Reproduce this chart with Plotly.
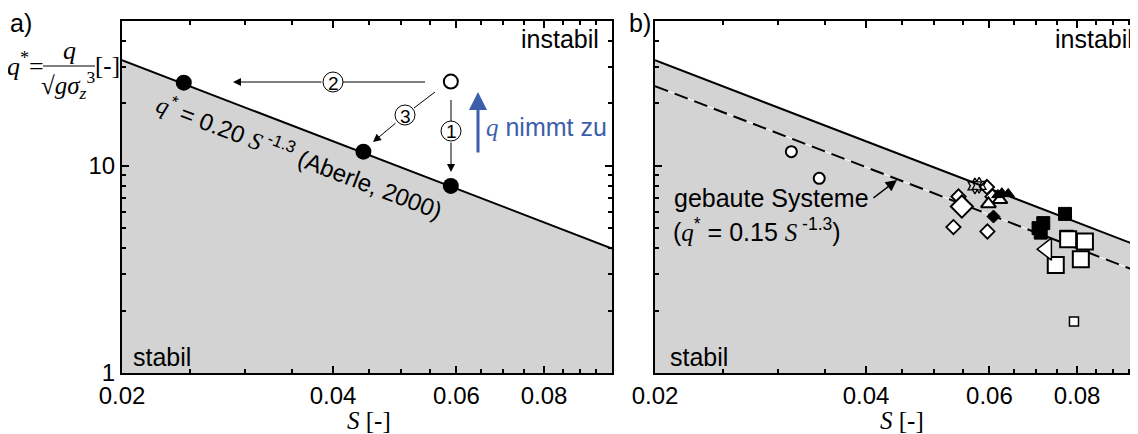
import numpy as np
import plotly.graph_objects as go

# ---------------- data ----------------
S_MIN, S_MAX = 0.02, 0.1
Q_MIN, Q_MAX = 1, 50
ABERLE_COEF = 0.20     # q* = 0.20 S^-1.3
BUILT_COEF = 0.15      # q* = 0.15 S^-1.3
EXPONENT = -1.3

x_tick_vals = [0.02, 0.04, 0.06, 0.08]
x_tick_text = ["0.02", "0.04", "0.06", "0.08"]
x_minor_vals = [0.025, 0.03, 0.035, 0.045, 0.05, 0.055, 0.065, 0.07, 0.075, 0.085, 0.09, 0.095]
y_tick_vals = [1, 10, 50]
y_tick_text = ["1", "10", "50"]
y_minor_vals = [2, 3, 4, 5, 6, 7, 8, 9, 20, 30, 40]

# panel a
a_start_S = [0.0589]
a_start_q = [25.5]
a_end_S = [0.0245, 0.0442, 0.0589]
a_end_q = [25.2, 11.7, 8.0]

# panel b (built systems)
b_circ_S = [0.0313, 0.0343]
b_circ_q = [11.7, 8.7]
b_smalldia_S = [0.0533, 0.0596, 0.0542, 0.0595, 0.0606]
b_smalldia_q = [5.06, 4.82, 7.11, 7.9, 7.1]
b_bigdia_S = [0.0548]
b_bigdia_q = [6.36]
b_star_S = [0.0572, 0.0580]
b_star_q = [8.0, 8.05]
b_blktri_S = [0.0617, 0.0625, 0.0638]
b_blktri_q = [7.24, 7.38, 7.32]
b_opentri_S = [0.0621, 0.0598]
b_opentri_q = [6.85, 6.55]
b_blkdia_S = [0.0608]
b_blkdia_q = [5.69]
b_blksq_S = [0.0769, 0.0716, 0.0705, 0.0710]
b_blksq_q = [5.86, 5.29, 5.0, 4.76]
b_opensq_S = [0.0777, 0.0821, 0.0746, 0.0810]
b_opensq_q = [4.42, 4.31, 3.32, 3.54]
b_midsq_S = [0.0773]
b_midsq_q = [4.55]
b_lefttri_S = [0.0724]
b_lefttri_q = [3.96]
b_tinysq_S = [0.0792]
b_tinysq_q = [1.77]

# ---------------- layout helpers ----------------
# page body has an 8px margin, so the figure is 8px smaller and the
# helpers below work in window pixels
OFF = 8
W, H = 1138 - OFF, 434 - OFF
ML, MR, MT, MB = 122 - OFF, 0, 21 - OFF, 434 - 373
PW, PH = W - ML - MR, H - MT - MB
PX_PER_DEC = 701.0


def fx(px):
    return (px - 122) / PW


def fy(py):
    return (373 - py) / PH


SANS = "Liberation Sans"
SERIF = "Liberation Serif"
GRAY = "#d3d3d3"
BLUE = "#3d5eab"


def power(coef, s):
    return coef * np.power(np.asarray(s, dtype=float), EXPONENT)


fig = go.Figure()

line_S = [S_MIN, S_MAX]
for xa, ya in (("x", "y"), ("x2", "y2")):
    fig.add_trace(go.Scatter(
        x=[S_MIN, S_MAX, S_MAX, S_MIN],
        y=list(power(ABERLE_COEF, line_S)) + [Q_MIN, Q_MIN],
        fill="toself", fillcolor=GRAY, line=dict(width=0), mode="lines",
        hoverinfo="skip", showlegend=False, xaxis=xa, yaxis=ya))
    fig.add_trace(go.Scatter(
        x=line_S, y=power(ABERLE_COEF, line_S), mode="lines",
        line=dict(color="black", width=2), showlegend=False, xaxis=xa, yaxis=ya))

# dashed built-systems line (panel b)
fig.add_trace(go.Scatter(x=line_S, y=power(BUILT_COEF, line_S), mode="lines",
                         line=dict(color="white", width=1), showlegend=False,
                         xaxis="x2", yaxis="y2"))
fig.add_trace(go.Scatter(x=line_S, y=power(BUILT_COEF, line_S), mode="lines",
                         line=dict(color="black", width=2, dash="14px,7px"), showlegend=False,
                         xaxis="x2", yaxis="y2"))

# panel a points
fig.add_trace(go.Scatter(x=a_end_S, y=a_end_q, mode="markers",
                         marker=dict(symbol="circle", size=16, color="black"),
                         showlegend=False, xaxis="x", yaxis="y"))
fig.add_trace(go.Scatter(x=a_start_S, y=a_start_q, mode="markers",
                         marker=dict(symbol="circle", size=14, color="white",
                                     line=dict(color="black", width=2)),
                         showlegend=False, xaxis="x", yaxis="y"))


def pts(S, q, symbol, size, fill, lw=1.5):
    fig.add_trace(go.Scatter(
        x=S, y=q, mode="markers",
        marker=dict(symbol=symbol, size=size, color=fill,
                    line=dict(color="black", width=lw)),
        showlegend=False, xaxis="x2", yaxis="y2"))


pts(b_circ_S, b_circ_q, "circle", 11, "white", 2)
pts(b_smalldia_S, b_smalldia_q, "diamond", 11, "white", 1.8)
pts(b_bigdia_S, b_bigdia_q, "diamond", 17, "white", 2)
pts(b_star_S, b_star_q, "hexagram-open", 12, "black", 1.3)
pts(b_opentri_S, b_opentri_q, "triangle-up", 13, "white", 2)
pts(b_blktri_S, b_blktri_q, "triangle-up", 11, "black", 1)
pts(b_blkdia_S, b_blkdia_q, "diamond", 10, "black", 1)
pts(b_blksq_S, b_blksq_q, "square", 13, "black", 1)
pts(b_midsq_S, b_midsq_q, "square", 12, "white", 2)
pts(b_opensq_S, b_opensq_q, "square", 16, "white", 2)
pts(b_lefttri_S, b_lefttri_q, "triangle-left", 19, "white", 1.5)
pts(b_tinysq_S, b_tinysq_q, "square", 9, "white", 1.5)

# ---------------- axes ----------------
tickfont = dict(family=SANS, size=24, color="black")
common_x = dict(type="log", tickmode="array", tickvals=x_tick_vals, ticktext=x_tick_text,
                ticks="inside", ticklen=7, tickwidth=1.5, tickcolor="black",
                showline=True, linewidth=2, linecolor="black", mirror="ticks",
                showgrid=False, zeroline=False, tickfont=tickfont,
                minor=dict(tickvals=x_minor_vals, ticks="inside", ticklen=4,
                           tickwidth=1.5, tickcolor="black", showgrid=False))
common_y = dict(type="log", tickmode="array", tickvals=y_tick_vals, ticktext=y_tick_text,
                range=[np.log10(Q_MIN), np.log10(Q_MAX)],
                ticks="inside", ticklen=7, tickwidth=1.5, tickcolor="black",
                showline=True, linewidth=2, linecolor="black",
                showgrid=False, zeroline=False, tickfont=tickfont,
                minor=dict(tickvals=y_minor_vals, ticks="inside", ticklen=4,
                           tickwidth=1.5, tickcolor="black", showgrid=False))

x2_end = np.log10(S_MIN) + (1138 - 655) / PX_PER_DEC

fig.update_layout(
    width=W, height=H,
    margin=dict(l=ML, r=MR, t=MT, b=MB),
    paper_bgcolor="white", plot_bgcolor="white",
    xaxis=dict(common_x, domain=[0, fx(612)], range=[np.log10(S_MIN), np.log10(S_MAX)], anchor="y"),
    yaxis=dict(common_y, domain=[0, 1], anchor="x", mirror="ticks"),
    xaxis2=dict(common_x, domain=[fx(655), 1], range=[np.log10(S_MIN), x2_end], anchor="y2"),
    yaxis2=dict(common_y, domain=[0, 1], anchor="x2", mirror=False, showticklabels=False),
)

# ---------------- annotations ----------------
ann = []
shapes = []


def text(px, py, t, size=25, family=SANS, color="black", xanchor="center", angle=0):
    ann.append(dict(x=fx(px), y=fy(py), xref="paper", yref="paper", text=t, showarrow=False,
                    xanchor=xanchor, yanchor="middle", textangle=angle,
                    font=dict(family=family, size=size, color=color)))


def arrow(tx, ty, hx, hy, color="black", width=1, size=1.6):
    ann.append(dict(x=fx(hx), y=fy(hy), xref="paper", yref="paper", ax=tx - hx, ay=ty - hy,
                    axref="pixel", ayref="pixel", text="", showarrow=True,
                    arrowhead=2, arrowsize=size, arrowwidth=width, arrowcolor=color))


def seg(x0, y0, x1, y1, width=1, color="black"):
    shapes.append(dict(type="line", xref="paper", yref="paper",
                       x0=fx(x0), y0=fy(y0), x1=fx(x1), y1=fy(y1),
                       line=dict(color=color, width=width)))


def circ_num(cx, cy, label):
    shapes.append(dict(type="circle", xref="paper", yref="paper",
                       x0=fx(cx - 10), x1=fx(cx + 10), y0=fy(cy + 10), y1=fy(cy - 10),
                       fillcolor="white", line=dict(color="black", width=1)))
    text(cx, cy + 1, label, size=19)


# panel labels
text(21, 23, "a)", size=25)
text(640, 23, "b)", size=25)

# y axis title (fraction)
text(25, 64, "<i>q</i><sup>*</sup>=", size=26, family=SERIF)
text(69, 51, "<i>q</i>", size=26, family=SERIF)
seg(43, 66, 95, 66)
text(68, 85, "√<i>gσ<sub>z</sub></i><sup>3</sup>", size=25, family=SERIF)
text(107, 66, "[-]", size=25, family=SERIF)

# x axis titles
for cx in (369, 902):
    text(cx, 421, "<i>S</i> [-]", size=25, family=SERIF)

# stability labels
text(601, 39, "instabil", xanchor="right")
text(131, 357, "stabil", xanchor="left")
text(1053, 39, "instabil", xanchor="left")
text(668, 357, "stabil", xanchor="left")

# Aberle equation along the line
text(300, 156,
     "<span style='font-family:Liberation Serif'><i>q</i></span><sup>*</sup> = 0.20 "
     "<span style='font-family:Liberation Serif'><i>S</i></span><sup> -1.3</sup> (Aberle, 2000)",
     size=24, angle=21)

# panel a arrows with circled numbers
seg(425, 82, 343, 82)
circ_num(333, 82, "2")
arrow(323, 82, 233, 82)

seg(451, 100, 451, 121)
circ_num(451, 131, "1")
arrow(451, 141, 451, 172)

seg(435, 92, 414, 108)
circ_num(405, 115, "3")
arrow(397, 122, 373, 142)

# blue arrow
arrow(478, 154, 478, 92, color=BLUE, width=3, size=1.2)
text(484, 127, "<span style='font-family:Liberation Serif'><i>q</i></span> nimmt zu",
     size=25, color=BLUE, xanchor="left")

# panel b label
text(672, 198, "gebaute Systeme", size=25, xanchor="left")
text(671, 230,
     "(<span style='font-family:Liberation Serif'><i>q</i></span><sup>*</sup> = 0.15 "
     "<span style='font-family:Liberation Serif'><i>S</i></span><sup> -1.3</sup>)",
     size=25, xanchor="left")
arrow(872, 199, 897, 180, width=1.5, size=1.5)

fig.update_layout(annotations=ann, shapes=shapes)
fig.write_html("out.html")
